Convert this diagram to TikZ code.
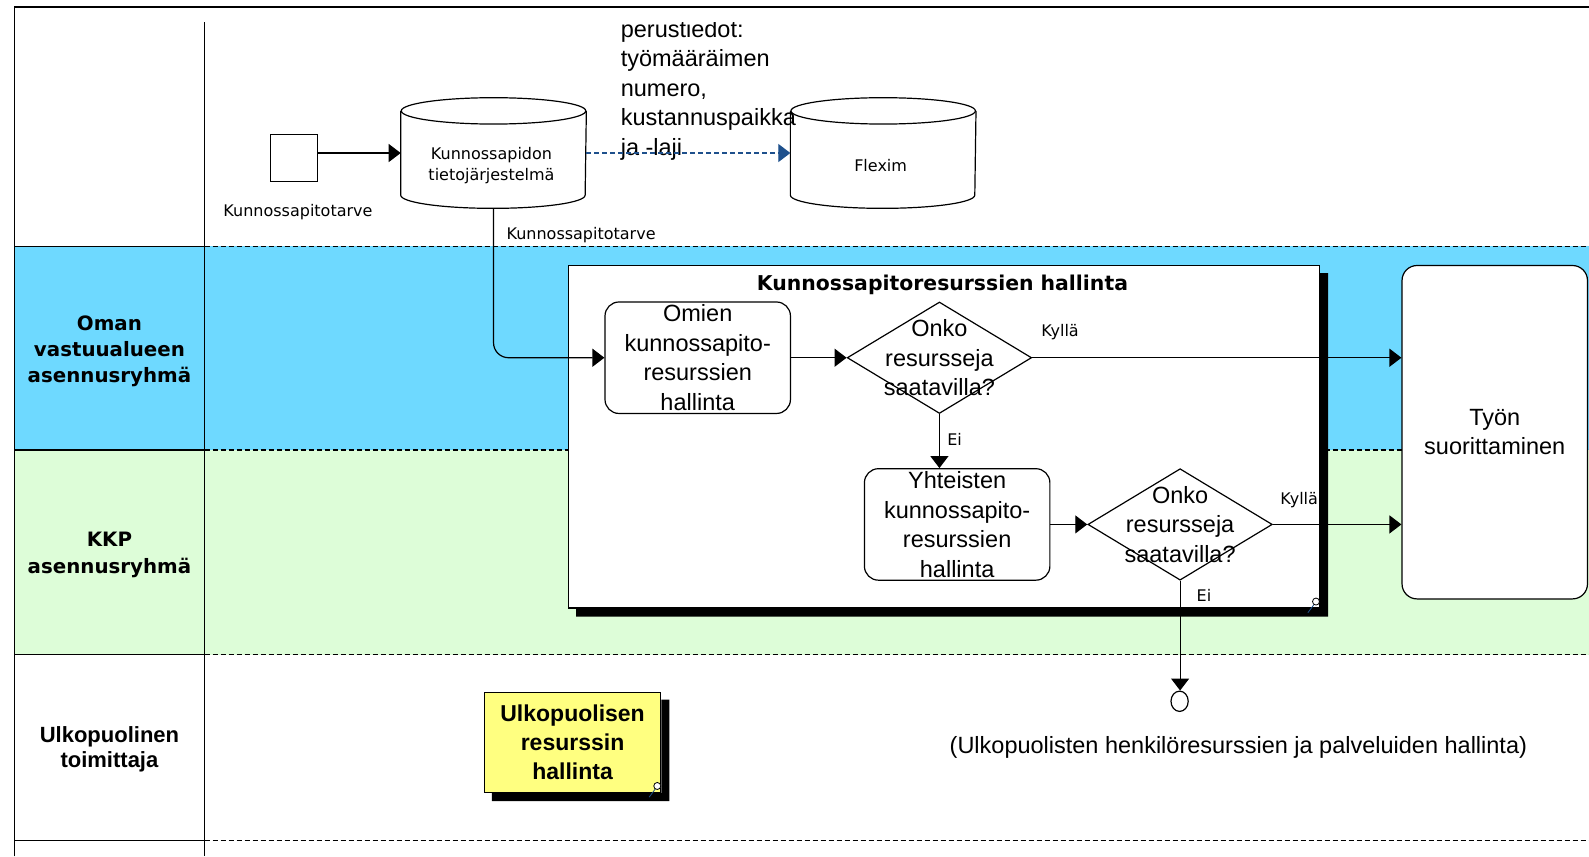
\documentclass[tikz,border=0pt]{standalone}
\usepackage{fontspec}
\setmainfont{Liberation Sans}
\newfontfamily\dejavu{DejaVu Sans}
\usetikzlibrary{arrows.meta,shapes.geometric,calc}
\definecolor{laneblue}{RGB}{110,217,255}
\definecolor{lanegreen}{RGB}{221,253,216}
\definecolor{noteyellow}{RGB}{255,255,128}
\definecolor{flowblue}{RGB}{30,80,140}
\newcommand{\upx}{1.0134pt}
% data store drawn as a cylinder around an (invisible) node
\newcommand{\drawcyl}[1]{%
  \draw[fill=white] ($(#1.north west)+(0,13)$) -- ($(#1.south west)+(0,-13)$)
    arc[start angle=180,end angle=360,x radius=91*\upx,y radius=13*\upx]
    -- ($(#1.north east)+(0,13)$);
  \draw[fill=white] ($(#1.north)+(0,13)$) ellipse[x radius=91*\upx,y radius=13*\upx];}
% L-shaped drop shadow on the right and bottom of a box
\newcommand{\boxshadow}[1]{%
  \fill[black] ($(#1.north east)+(0,8)$) -- ($(#1.north east)+(8,8)$)
    -- ($(#1.south east)+(8,8)$) -- ($(#1.south west)+(8,8)$)
    -- ($(#1.south west)+(8,0)$) -- (#1.south east) -- cycle;}
% small zoom icon in the corner of a sub-process
\newcommand{\zoomicon}[1]{%
  \draw[flowblue,line width=0.8pt] ($(#1.south east)+(-6,-4)$) -- ($(#1.south east)+(-12,4)$);
  \draw[fill=white,line width=0.8pt] ($(#1.south east)+(-4,-7)$) circle[radius=3.5pt];}

\begin{document}
\begin{tikzpicture}[x=1.0134pt,y=-1.0134pt,
  line width=1.2pt,
  flow/.style={-{Triangle[length=12pt,width=18pt]}},
  bigtext/.style={font=\fontsize{23.5}{29.5}\selectfont,align=center},
  smalltext/.style={font=\dejavu\fontsize{16}{21.3}\selectfont,align=center},
  lanelabel/.style={font=\dejavu\bfseries\fontsize{19.8}{26.3}\selectfont,align=center},
  procbox/.style={draw,rounded corners=14pt,minimum width=183*\upx,minimum height=110*\upx,inner sep=0pt,fill=white},
  decision/.style={draw,diamond,minimum width=182*\upx,minimum height=110*\upx,inner sep=0pt,fill=white},
  store/.style={minimum width=182*\upx,minimum height=108*\upx,inner sep=0pt},
  lanesep/.style={dash pattern=on 5pt off 3pt},
]
\useasboundingbox (0,0) rectangle (1568,845);
\fill[white] (0,0) rectangle (1568,845);

% lanes
\fill[laneblue] (14,243) rectangle (1568,444);
\fill[lanegreen] (14,444) rectangle (1568,646);
\draw (14,845) -- (14,7) -- (1568,7);
\draw (202,22) -- (202,845);
\foreach \yy in {243,444,646,829}{
  \draw (14,\yy) -- (202,\yy);
  \draw[lanesep] (202,\yy) -- (1568,\yy);
}
\node[lanelabel] (lane1) at (108,346.5) {Oman\\vastuualueen\\asennusryhmä};
\node[lanelabel] (lane2) at (108,547.5) {KKP\\asennusryhmä};
\node[font=\bfseries\fontsize{22}{25.5}\selectfont,align=center] (lane3) at (108,739.5) {Ulkopuolinen\\toimittaja};

% information systems
\node[draw,minimum size=46*\upx,inner sep=0pt] (need) at (290,156) {};
\node[smalltext] (needlab) at (294,209) {Kunnossapitotarve};
\node[store] (kpt) at (487,151) {};
\drawcyl{kpt}
\node[smalltext] (kpttext) at (485,163.5) {Kunnossapidon\\tietojärjestelmä};
\node[store] (flex) at (871.5,151) {};
\drawcyl{flex}
\node[smalltext] (flextext) at (869,163.5) {Flexim};
\begin{scope}
  \clip (560,22) rectangle (820,200);
  \node[bigtext,align=left,anchor=west,inner sep=0pt] (info) at (612,89)
    {perustiedot:\\työmääräimen\\numero,\\kustannuspaikka\\ja -laji};
\end{scope}
\draw[flow] (kpt.west -| need.east) -- (kpt.west);
\draw[flow,flowblue,lanesep] (kpt.east) -- (flex.west);

% sub-process
\node[draw,fill=white,minimum width=741*\upx,minimum height=338*\upx,inner sep=0pt] (sub) at (931.5,431) {};
\node[font=\dejavu\bfseries\fontsize{20.4}{24}\selectfont] (subtitle) at (930,281) {Kunnossapitoresurssien hallinta};

\node[procbox,label={[bigtext]center:{Omien\\kunnossapito-\\resurssien\\hallinta}}] (omien) at (688.5,353) {};
\node[decision,label={[bigtext]center:{Onko\\resursseja\\saatavilla?}}] (d1) at (927,353) {};
\node[procbox,label={[bigtext]center:{Yhteisten\\kunnossapito-\\resurssien\\hallinta}}] (yht) at (944.5,517.5) {};
\node[decision,label={[bigtext]center:{Onko\\resursseja\\saatavilla?}}] (d2) at (1164.5,517.5) {};
\node[procbox,rounded corners=15pt,minimum height=329*\upx,label={[bigtext]center:{Työn\\suorittaminen}}] (tyon) at (1475,426.5) {};

\draw[flow,rounded corners=15pt] (kpt.south) |- (omien.west);
\node[smalltext,anchor=west] (needlab2) at (496,232) {Kunnossapitotarve};
\draw[flow] (omien.east) -- (d1.west);
\draw[flow] (d1.east) -- (d1.east -| tyon.west);
\node[smalltext] (yes1) at (1046,328) {Kyllä};
\draw[flow] (d1.south) -- (d1.south |- yht.north);
\node[smalltext] (no1) at (942,434) {Ei};
\draw[flow] (yht.east) -- (d2.west);
\draw[flow] (d2.east) -- (d2.east -| tyon.west);
\node[smalltext] (yes2) at (1282,493) {Kyllä};
\node[smalltext] (no2) at (1188,588) {Ei};
\node[draw,ellipse,fill=white,minimum width=17*\upx,minimum height=20*\upx,inner sep=0pt] (extend) at (1164,692) {};
\draw[flow] (d2.south) -- (d2.south |- extend.north);
\node[bigtext] (extlab) at (1222,738) {(Ulkopuolisten henkilöresurssien ja palveluiden hallinta)};

\boxshadow{sub}
\zoomicon{sub}

% external resource process
\node[draw,fill=noteyellow,minimum width=174*\upx,minimum height=99*\upx,inner sep=0pt,
  font=\bfseries\fontsize{23}{29.4}\selectfont,align=center] (extres) at (565,732.5)
  {Ulkopuolisen\\resurssin\\hallinta};
\boxshadow{extres}
\zoomicon{extres}
\end{tikzpicture}
\end{document}
